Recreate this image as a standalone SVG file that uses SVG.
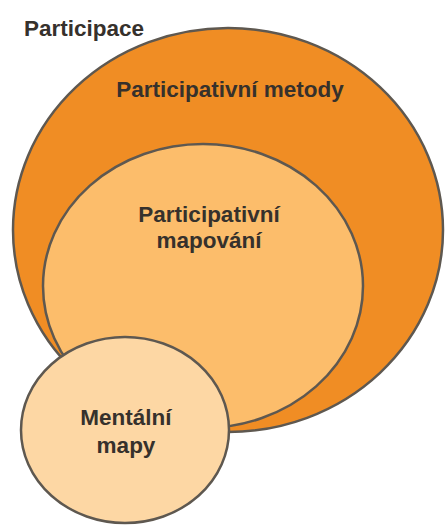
<svg xmlns="http://www.w3.org/2000/svg" width="447" height="525" viewBox="0 0 447 525">
<style>
.s{stroke:#5e5850;stroke-width:2.5}
.t{font-family:"Liberation Sans",Arial,sans-serif;font-weight:bold;font-size:22.5px;fill:#36312c;text-anchor:middle}
</style>
<rect width="447" height="525" fill="#ffffff"/>
<g id="participace">
<text class="t" x="84" y="36">Participace</text>
</g>
<g id="participativni-metody">
<ellipse class="s" cx="228" cy="230" rx="215" ry="202" fill="#f08d24"/>
<text class="t" x="230" y="97">Participativní metody</text>
</g>
<g id="participativni-mapovani">
<ellipse class="s" cx="203" cy="286" rx="160" ry="142" fill="#fcbd6b"/>
<text class="t" x="209" y="222">Participativní</text>
<text class="t" x="209" y="248">mapování</text>
</g>
<g id="mentalni-mapy">
<ellipse class="s" cx="125" cy="430" rx="104" ry="93" fill="#fdd7a4"/>
<text class="t" x="126" y="425">Mentální</text>
<text class="t" x="126" y="453">mapy</text>
</g>
<g id="connectors"></g>
</svg>
